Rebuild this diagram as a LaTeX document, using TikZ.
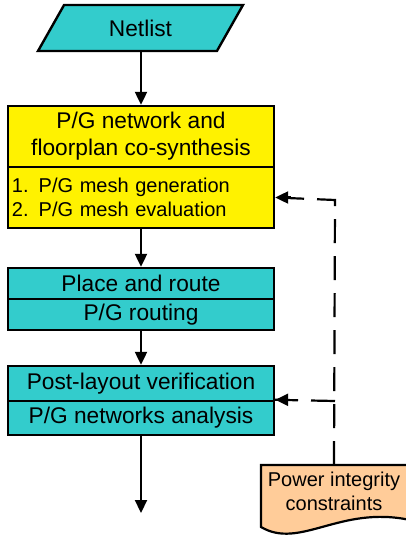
\documentclass[tikz,border=0pt]{standalone}
\usepackage{fontspec}
\setmainfont{Liberation Sans}
\usepackage{tikz}
\usetikzlibrary{arrows.meta,shapes.geometric,calc}
\definecolor{flowcyan}{RGB}{51,204,204}
\definecolor{flowpeach}{RGB}{255,204,153}
\tikzset{
  stage/.style={draw,line width=2.4pt,minimum width=266pt,inner sep=0pt,align=center,
    font=\fontsize{22.7}{27}\selectfont},
  flow/.style={line width=2.2pt,-{Triangle[length=13pt,width=12pt]}},
  feedback/.style={line width=2.2pt,dash pattern=on 24pt off 13pt},
}

\begin{document}
\begin{tikzpicture}[x=1pt,y=-1pt]
\useasboundingbox (0,0) rectangle (406,536);
\node[trapezium,trapezium stretches=true,trapezium left angle=63,trapezium right angle=117,
  draw,line width=2.4pt,fill=flowcyan,minimum width=207pt,minimum height=46pt,
  font=\fontsize{22.7}{27}\selectfont] (netlist) at (140.5,28) {Netlist};
%
\node[stage,fill=yellow,minimum height=61pt] (cosyn) at (141,136.5)
  {P/G network and\\floorplan co-synthesis};
\node[stage,fill=yellow,minimum height=61pt,text width=258pt,inner xsep=4pt,align=left,
  font=\fontsize{20}{24}\selectfont] (meshsteps) at (141,197.5)
  {1. P/G mesh generation\\2. P/G mesh evaluation};
%
\node[stage,fill=flowcyan,minimum height=31pt] (pnr) at (141,283.5) {Place and route};
\node[stage,fill=flowcyan,minimum height=31pt] (pgroute) at (141,314.5) {P/G routing};
%
\node[stage,fill=flowcyan,minimum height=35pt] (postlay) at (141,383.5) {Post-layout verification};
\node[stage,fill=flowcyan,minimum height=34pt] (pganal) at (141,418) {P/G networks analysis};
\coordinate (out) at (141,513);
%
\draw[line width=2.2pt,fill=flowpeach] (261,465) -- (410,465) -- (410,520)
  .. controls (340,505) and (300,550) .. (261,527) -- cycle;
\node[align=center,font=\fontsize{20}{24}\selectfont] (picons) at (334,491.5)
  {Power integrity\\constraints};
\coordinate (turn) at (335,200);
\coordinate (branch) at (335,401);
%
\draw[flow] (netlist.south -| cosyn.north) -- (cosyn.north);
\draw[flow] (meshsteps.south) -- (pnr.north);
\draw[flow] (pgroute.south) -- (postlay.north);
\draw[flow] (pganal.south) -- (out);
\draw[feedback] (picons.north |- 0,465) -- (turn) -- (meshsteps.east);
\draw[line width=2.2pt,-{Triangle[length=13pt,width=12pt]}] ($(meshsteps.east)+(16,0)$) -- (meshsteps.east);
\draw[feedback] (branch) -- (pganal.north east);
\draw[line width=2.2pt,-{Triangle[length=13pt,width=12pt]}] ($(pganal.north east)+(14,0)$) -- (pganal.north east);
\end{tikzpicture}
\end{document}
